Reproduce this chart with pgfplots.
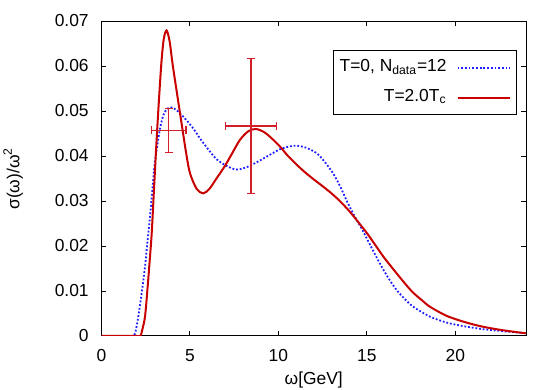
\documentclass[border=0pt]{standalone}
\usepackage{pgfplots}
\pgfplotsset{compat=1.18}
\usepackage{fontspec}
\setmainfont{Liberation Sans}
\definecolor{gred}{RGB}{200,0,0}
\definecolor{gblue}{RGB}{30,30,255}
\definecolor{ered}{RGB}{210,30,40}

\pgfplotstableread{
x y
0 0
1 0
1.8 0
1.95 0.0015
2.08 0.0043
2.27 0.0095
2.46 0.0154
2.6 0.0210
2.74 0.0265
2.87 0.0322
2.99 0.0376
3.12 0.0415
3.31 0.0461
3.5 0.0491
3.72 0.0505
3.97 0.0508
4.3 0.0500
4.75 0.0482
5.19 0.0461
5.57 0.0439
6.13 0.0410
6.5 0.0393
6.98 0.0380
7.4 0.0372
7.73 0.0370
8.2 0.0375
8.68 0.0384
9.4 0.0400
10.09 0.0415
10.6 0.0421
11.03 0.0423
11.6 0.0418
12.17 0.0406
12.6 0.0388
13.1 0.0361
13.5 0.0332
13.86 0.0301
14.3 0.0267
14.8 0.0232
15.27 0.0196
15.74 0.0161
16.2 0.0130
16.69 0.0102
17.15 0.0082
17.63 0.0065
18.57 0.0043
19.5 0.0030
20.45 0.0022
21.4 0.0016
22.34 0.0012
23.2 0.0009
24 0.0006
}\zerotable

\pgfplotstableread{
x y
0 0
1 0
2.0 0
2.2 0
2.3 0.0013
2.46 0.0043
2.6 0.0105
2.72 0.0165
2.84 0.0229
2.96 0.0320
3.08 0.0410
3.21 0.0500
3.38 0.0604
3.52 0.0660
3.68 0.0679
3.85 0.0655
4.02 0.0604
4.25 0.0544
4.49 0.0482
4.78 0.0408
5.0 0.0362
5.38 0.0327
5.75 0.0317
6.1 0.0327
6.5 0.0350
6.98 0.0378
7.4 0.0407
7.83 0.0436
8.3 0.0455
8.73 0.0460
9.2 0.0453
9.6 0.0440
10.09 0.0421
10.5 0.0402
11.0 0.0382
11.5 0.0364
12.0 0.0348
12.5 0.0333
13.0 0.0317
13.5 0.0299
14.0 0.0278
14.5 0.0254
15.0 0.0229
15.5 0.0201
16.0 0.0173
16.69 0.0139
17.15 0.0117
17.6 0.0097
18.1 0.0080
18.57 0.0065
19.5 0.0045
20.45 0.0032
21.4 0.0022
22.34 0.0015
23.2 0.0010
24 0.0006
}\hottable

\begin{document}
\begin{tikzpicture}
\useasboundingbox (0,0) rectangle (278pt,195pt);
\begin{axis}[
  at={(50.75pt,27pt)}, anchor=south west,
  scale only axis, width=212.25pt, height=157.5pt,
  font=\fontsize{8.7}{10}\selectfont,
  xmin=0, xmax=24, ymin=0, ymax=0.07,
  scaled y ticks=false, scaled x ticks=false,
  xtick={0,5,10,15,20}, xticklabels={0,5,10,15,20},
  ytick={0,0.01,0.02,0.03,0.04,0.05,0.06,0.07},
  yticklabels={0,0.01,0.02,0.03,0.04,0.05,0.06,0.07},
  tick pos=both, tick align=inside, major tick length=2.3pt,
  minor tick num=0,
  axis line style={line width=0.5pt},
  every tick/.style={black, line width=0.5pt},
  xticklabel style={yshift=-3pt},
  yticklabel style={xshift=-2.9pt},
  xlabel={ω[GeV]}, ylabel={σ(ω)/ω\textsuperscript{2}},
  xlabel style={at={(axis description cs:0.5,-0.155)}, anchor=base},
  ylabel style={at={(axis description cs:-0.208,0.5)}, anchor=center},
  legend plot pos=right, legend cell align=right,
  legend image code/.code={\draw[#1] (0pt,0pt) -- (26pt,0pt);},
  legend style={at={(0.979,0.908)}, anchor=north east, draw=black,
    line width=0.5pt, inner xsep=3pt, inner ysep=4.5pt,
    row sep=6.8pt, column sep=5pt,
    nodes={inner sep=0pt, text height=6.2pt, text depth=2pt}},
]
\addplot[gblue, line width=0.9pt, dash pattern=on 0.9pt off 0.95pt, smooth]
  table[x=x, y=y] {\zerotable};
\addlegendentry{T=0, N\textsubscript{data}=12}
\addplot[gred, line width=1pt, smooth] table[x=x, y=y] {\hottable};
\addlegendentry{T=2.0T\textsubscript{c}}
\addplot[draw=none, mark=none, forget plot,
  error bars/.cd, x dir=both, x explicit, y dir=both, y explicit,
  error bar style={ered, line width=0.7pt},
  error mark options={ered, line width=0.7pt, mark size=2pt, rotate=90}]
  coordinates {(3.8,0.0457) +- (0.98,0.0049) (8.45,0.0467) +- (1.43,0.015)};
\end{axis}
\end{tikzpicture}
\end{document}
